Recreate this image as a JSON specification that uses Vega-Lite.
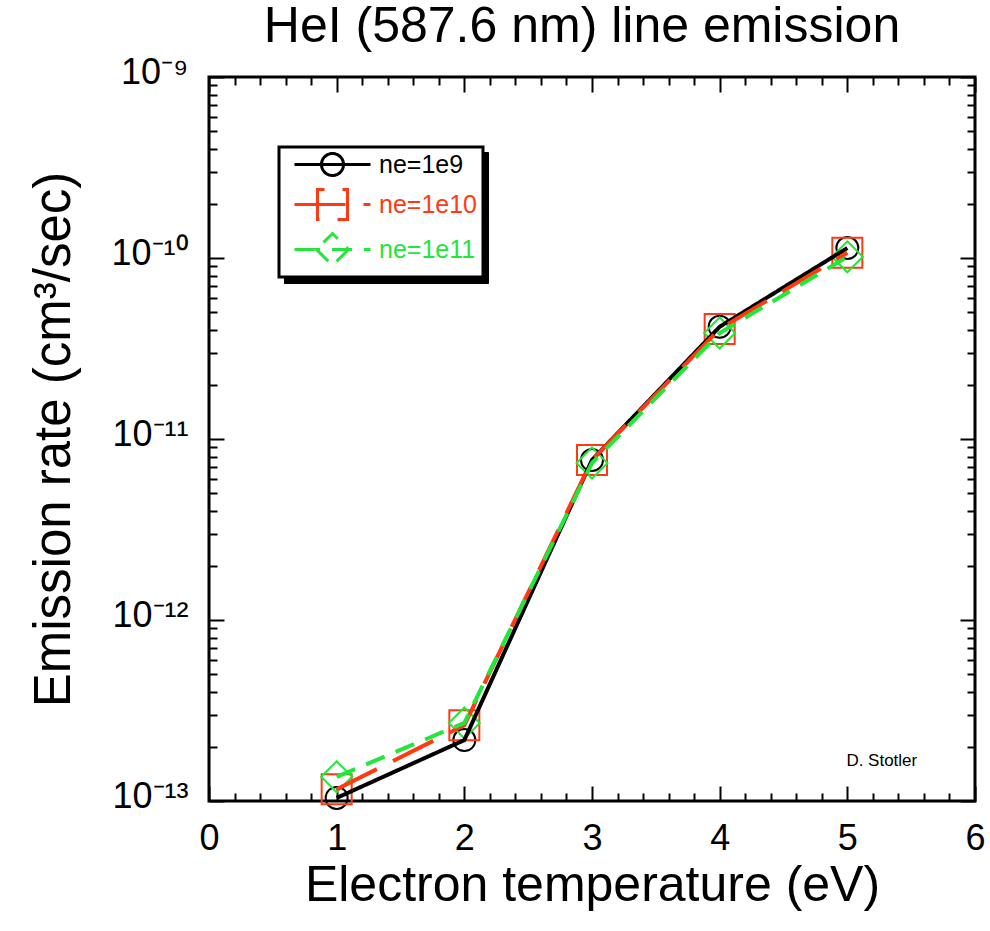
{
  "$schema": "https://vega.github.io/schema/vega-lite/v6.json",
  "width": 766,
  "height": 724,
  "autosize": "none",
  "padding": {"left": 209, "top": 77, "right": 15, "bottom": 130},
  "background": "white",
  "title": {"text": "HeI (587.6 nm) line emission", "font": "Liberation Sans", "fontSize": 50, "fontWeight": "normal", "color": "black", "baseline": "alphabetic", "offset": -38, "anchor": "middle", "dx": -10},
  "config": {
    "view": {"stroke": "black", "strokeWidth": 3},
    "axis": {"grid": false, "domain": false, "tickColor": "black", "tickWidth": 2, "labelColor": "black", "labelFont": "Liberation Sans", "titleFont": "Liberation Sans", "titleColor": "black", "titleFontWeight": "normal", "labelFlush": false, "labelOverlap": false, "labelBound": false}
  },
  "data": {"values": [
    {"T": 1, "rate": 1.04e-13, "series": "ne=1e9"},
    {"T": 2, "rate": 2.17e-13, "series": "ne=1e9"},
    {"T": 3, "rate": 7.66e-12, "series": "ne=1e9"},
    {"T": 4, "rate": 4.17e-11, "series": "ne=1e9"},
    {"T": 5, "rate": 1.135e-10, "series": "ne=1e9"},
    {"T": 1, "rate": 1.16e-13, "series": "ne=1e10"},
    {"T": 2, "rate": 2.62e-13, "series": "ne=1e10"},
    {"T": 3, "rate": 7.66e-12, "series": "ne=1e10"},
    {"T": 4, "rate": 4.05e-11, "series": "ne=1e10"},
    {"T": 5, "rate": 1.07e-10, "series": "ne=1e10"},
    {"T": 1, "rate": 1.36e-13, "series": "ne=1e11"},
    {"T": 2, "rate": 2.7e-13, "series": "ne=1e11"},
    {"T": 3, "rate": 7.37e-12, "series": "ne=1e11"},
    {"T": 4, "rate": 3.85e-11, "series": "ne=1e11"},
    {"T": 5, "rate": 1.015e-10, "series": "ne=1e11"}
  ]},
  "layer": [
    {
      "mark": {"type": "point", "filled": false, "strokeWidth": 2, "opacity": 1, "size": 400},
      "encoding": {
        "x": {"field": "T", "type": "quantitative", "scale": {"domain": [0, 6], "nice": false, "zero": false},
          "axis": {"orient": "bottom", "values": [0, 1, 2, 3, 4, 5, 6], "ticks": false, "labelPadding": 48, "labelBaseline": "alphabetic", "labelFontSize": 36, "format": "d",
            "title": "Electron temperature (eV)", "titleFontSize": 50, "titleX": 383, "titleY": 99, "titleBaseline": "alphabetic", "titleAlign": "center"}},
        "y": {"field": "rate", "type": "quantitative", "scale": {"type": "log", "domain": [1e-13, 1e-9], "nice": false},
          "axis": {"orient": "left", "values": [1e-13, 1e-12, 1e-11, 1e-10, 1e-9], "ticks": false, "labelPadding": 21, "labelFontSize": 36, "labelBaseline": "alphabetic", "labelOffset": 6,
            "labelExpr": "datum.value < 5e-13 ? '10⁻¹³' : datum.value < 5e-12 ? '10⁻¹²' : datum.value < 5e-11 ? '10⁻¹¹' : datum.value < 5e-10 ? '10⁻¹⁰' : '10⁻⁹'",
            "title": "Emission rate (cm³/sec)", "titleFontSize": 51, "titleAngle": -90, "titleX": -140, "titleY": 362, "titleBaseline": "alphabetic", "titleAlign": "center"}},
        "shape": {"field": "series", "type": "nominal", "scale": {"domain": ["ne=1e10", "ne=1e11", "ne=1e9"], "range": ["M-1.5,-1.5H1.5V1.5H-1.5Z", "M0,-1.55L1.55,0L0,1.55L-1.55,0Z", "M1.1,0A1.1,1.1,0,1,1,-1.1,0A1.1,1.1,0,1,1,1.1,0Z"]},
          "legend": {"orient": "none", "legendX": 75, "legendY": 75, "zindex": 0, "title": null, "padding": 5, "rowPadding": 18, "symbolSize": 400, "symbolStrokeWidth": 3, "symbolOffset": 36, "labelOffset": 34,
            "labelFont": "Liberation Sans", "labelFontSize": 25, "fillColor": "black", "strokeColor": "black", "labelOpacity": 0, "symbolOpacity": 0,
            "encode": {
              "legend": {"update": {"strokeWidth": {"value": 3}}},
              "symbols": {"update": {
              "shape": {"signal": "datum.value === 'ne=1e9' ? 'M-3.8,0H3.8M1.1,0A1.1,1.1,0,1,1,-1.1,0A1.1,1.1,0,1,1,1.1,0' : datum.value === 'ne=1e10' ? 'M-3.8,0H-1.5V-1.5H1.5V1.5H-1.5V0H3.8' : 'M-3.8,0H-1.6L0,-1.6L1.6,0L0,1.6L-1.6,0H3.8'"},
              "opacity": {"value": 0}}}}}},
        "color": {"field": "series", "type": "nominal"}
      }
    },
    {
      "mark": {"type": "line", "strokeWidth": 4},
      "encoding": {
        "x": {"field": "T", "type": "quantitative",
          "axis": {"orient": "bottom", "values": [0, 1, 2, 3, 4, 5, 6], "tickSize": -15, "labels": false, "title": null}},
        "y": {"field": "rate", "type": "quantitative",
          "axis": {"orient": "left", "values": [1e-13, 1e-12, 1e-11, 1e-10, 1e-9], "tickSize": -15, "labels": false, "title": null}},
        "color": {"field": "series", "type": "nominal", "scale": {"domain": ["ne=1e9", "ne=1e10", "ne=1e11"], "range": ["#000000", "#ff3a12", "#22e639"]},
          "legend": {"orient": "top-left", "offset": 70, "zindex": 2, "title": null, "padding": 5, "rowPadding": 1, "symbolSize": 400, "symbolStrokeWidth": 3, "symbolOffset": 36, "labelOffset": 34,
            "labelFont": "Liberation Sans", "labelFontSize": 25, "fillColor": "white", "strokeColor": "black",
            "encode": {
              "legend": {"update": {"strokeWidth": {"value": 3}}},
              "symbols": {"update": {
                "shape": {"signal": "datum.value === 'ne=1e9' ? 'M-3.8,0H3.8M1.1,0A1.1,1.1,0,1,1,-1.1,0A1.1,1.1,0,1,1,1.1,0' : datum.value === 'ne=1e10' ? 'M-3.8,0H-1.5V-1.5H1.5V1.5H-1.5V0H3.8' : 'M-3.8,0H-1.6L0,-1.6L1.6,0L0,1.6L-1.6,0H3.8'"},
                "strokeDash": {"signal": "datum.value === 'ne=1e10' ? [165, 24, 10, 40] : datum.value === 'ne=1e11' ? [112.5, 16, 15, 15, 10, 40] : [1, 0]"},
                "fill": {"value": "transparent"},
                "stroke": {"scale": "color", "field": "value"},
                "opacity": {"value": 1}}},
              "labels": {"update": {"fill": {"scale": "color", "field": "value"}, "opacity": {"value": 1}}}}}},
        "strokeDash": {"field": "series", "type": "nominal", "scale": {"domain": ["ne=1e9", "ne=1e10", "ne=1e11"], "range": [[1, 0], [45, 18], [20, 12]]},
          "legend": {"orient": "top-left", "offset": 70, "zindex": 2, "title": null, "padding": 5, "rowPadding": 1, "symbolSize": 400, "symbolStrokeWidth": 3, "symbolOffset": 36, "labelOffset": 34,
            "labelFont": "Liberation Sans", "labelFontSize": 25, "fillColor": "white", "strokeColor": "black",
            "encode": {
              "legend": {"update": {"strokeWidth": {"value": 3}}},
              "symbols": {"update": {
                "shape": {"signal": "datum.value === 'ne=1e9' ? 'M-3.8,0H3.8M1.1,0A1.1,1.1,0,1,1,-1.1,0A1.1,1.1,0,1,1,1.1,0' : datum.value === 'ne=1e10' ? 'M-3.8,0H-1.5V-1.5H1.5V1.5H-1.5V0H3.8' : 'M-3.8,0H-1.6L0,-1.6L1.6,0L0,1.6L-1.6,0H3.8'"},
                "strokeDash": {"signal": "datum.value === 'ne=1e10' ? [165, 24, 10, 40] : datum.value === 'ne=1e11' ? [112.5, 16, 15, 15, 10, 40] : [1, 0]"},
                "fill": {"value": "transparent"},
                "stroke": {"scale": "color", "field": "value"},
                "opacity": {"value": 1}}},
              "labels": {"update": {"fill": {"scale": "color", "field": "value"}, "opacity": {"value": 1}}}}}}
      }
    },
    {
      "data": {"values": [{"note": "D. Stotler"}]},
      "mark": {"type": "text", "font": "Liberation Sans", "fontSize": 17, "align": "center", "baseline": "alphabetic", "color": "black"},
      "encoding": {
        "text": {"field": "note", "type": "nominal"},
        "x": {"datum": 5.27, "type": "quantitative",
          "axis": {"orient": "bottom", "values": [0.2, 0.4, 0.6, 0.8, 1.2, 1.4, 1.6, 1.8, 2.2, 2.4, 2.6, 2.8, 3.2, 3.4, 3.6, 3.8, 4.2, 4.4, 4.6, 4.8, 5.2, 5.4, 5.6, 5.8], "tickSize": -8, "labels": false, "title": null}},
        "y": {"datum": 1.56e-13, "type": "quantitative",
          "axis": {"orient": "left", "values": [2e-13, 3e-13, 4e-13, 5e-13, 6e-13, 7e-13, 8e-13, 9e-13, 2e-12, 3e-12, 4e-12, 5e-12, 6e-12, 7e-12, 8e-12, 9e-12, 2e-11, 3e-11, 4e-11, 5e-11, 6e-11, 7e-11, 8e-11, 9e-11, 2e-10, 3e-10, 4e-10, 5e-10, 6e-10, 7e-10, 8e-10, 9e-10], "tickSize": -8, "labels": false, "title": null}}
      }
    },
    {
      "mark": {"type": "point", "opacity": 0},
      "encoding": {
        "x": {"field": "T", "type": "quantitative",
          "axis": {"orient": "top", "values": [0, 1, 2, 3, 4, 5, 6], "tickSize": -15, "labels": false, "title": null}},
        "y": {"field": "rate", "type": "quantitative",
          "axis": {"orient": "right", "values": [1e-13, 1e-12, 1e-11, 1e-10, 1e-9], "tickSize": -15, "labels": false, "title": null}}
      }
    },
    {
      "mark": {"type": "point", "opacity": 0},
      "encoding": {
        "x": {"field": "T", "type": "quantitative",
          "axis": {"orient": "top", "values": [0.2, 0.4, 0.6, 0.8, 1.2, 1.4, 1.6, 1.8, 2.2, 2.4, 2.6, 2.8, 3.2, 3.4, 3.6, 3.8, 4.2, 4.4, 4.6, 4.8, 5.2, 5.4, 5.6, 5.8], "tickSize": -8, "labels": false, "title": null}},
        "y": {"field": "rate", "type": "quantitative",
          "axis": {"orient": "right", "values": [2e-13, 3e-13, 4e-13, 5e-13, 6e-13, 7e-13, 8e-13, 9e-13, 2e-12, 3e-12, 4e-12, 5e-12, 6e-12, 7e-12, 8e-12, 9e-12, 2e-11, 3e-11, 4e-11, 5e-11, 6e-11, 7e-11, 8e-11, 9e-11, 2e-10, 3e-10, 4e-10, 5e-10, 6e-10, 7e-10, 8e-10, 9e-10], "tickSize": -8, "labels": false, "title": null}}
      }
    }
  ],
  "resolve": {"axis": {"x": "independent", "y": "independent"}}
}
